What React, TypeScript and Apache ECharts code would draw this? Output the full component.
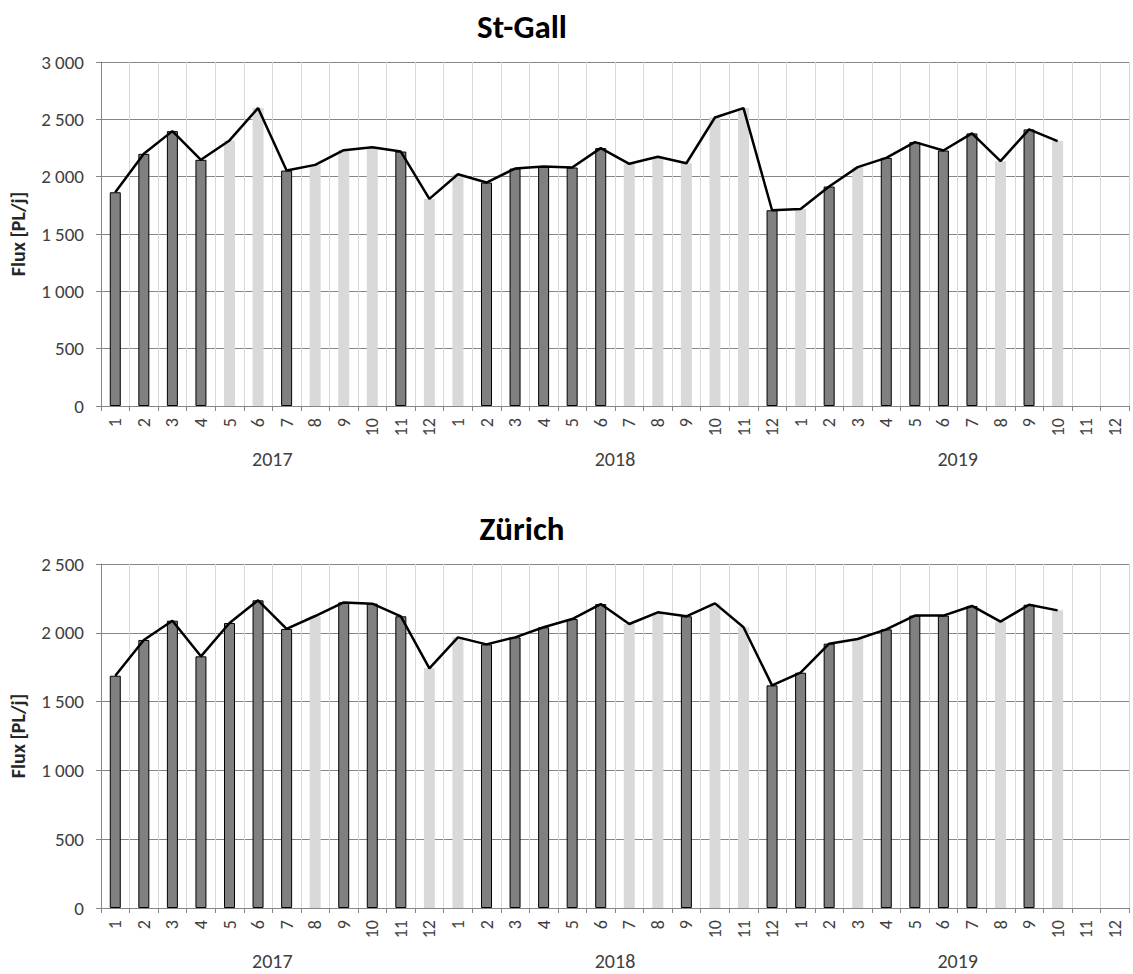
import React, { useEffect, useRef } from "react";
import * as echarts from "echarts";

const monthLabels = [
  "1", "2", "3", "4", "5", "6", "7", "8", "9", "10", "11", "12",
  "1", "2", "3", "4", "5", "6", "7", "8", "9", "10", "11", "12",
  "1", "2", "3", "4", "5", "6", "7", "8", "9", "10", "11", "12",
];
const years = ["2017", "2018", "2019"];

// St-Gall monthly flux [PL/j]
const stGallValues = [
  1864, 2199, 2397, 2147, 2316, 2598, 2053, 2103, 2231, 2257, 2219, 1806,
  2021, 1949, 2071, 2088, 2080, 2249, 2112, 2173, 2117, 2516, 2598, 1707,
  1718, 1914, 2083, 2164, 2301, 2228, 2377, 2135, 2412, 2310, null, null,
];
// 1 = measured (dark bar), 0 = estimated (light bar)
const stGallMeasured = [
  1, 1, 1, 1, 0, 0, 1, 0, 0, 0, 1, 0,
  0, 1, 1, 1, 1, 1, 0, 0, 0, 0, 0, 1,
  0, 1, 0, 1, 1, 1, 1, 0, 1, 0, 0, 0,
];

// Zürich monthly flux [PL/j]
const zurichValues = [
  1688, 1948, 2088, 1829, 2071, 2236, 2028, 2122, 2221, 2212, 2120, 1742,
  1967, 1916, 1967, 2040, 2100, 2209, 2064, 2149, 2120, 2214, 2040, 1618,
  1710, 1921, 1955, 2025, 2125, 2125, 2195, 2081, 2204, 2163, null, null,
];
const zurichMeasured = [
  1, 1, 1, 1, 1, 1, 1, 0, 1, 1, 1, 0,
  0, 1, 1, 1, 1, 1, 0, 0, 1, 0, 0, 1,
  1, 1, 0, 1, 1, 1, 1, 0, 1, 0, 0, 0,
];

const stGallMax = 3000;
const zurichMax = 2500;
const yInterval = 500;

const FONT = "Carlito, 'Open Sans', sans-serif";
const AXIS_GRAY = "#868686";
const GRID_LIGHT = "#d9d9d9";
const TEXT = "#404040";

const fmt = (v: number) =>
  v >= 1000 ? `${Math.floor(v / 1000)} ${String(v % 1000).padStart(3, "0")}` : String(v);

export default function App() {
  const ref = useRef<HTMLDivElement>(null);

  useEffect(() => {
    if (!ref.current) return;
    const chart = echarts.init(ref.current, undefined, { renderer: "svg" });

    const charts = [
      { title: "St-Gall", values: stGallValues, measured: stGallMeasured, max: stGallMax, top: 62 },
      { title: "Zürich", values: zurichValues, measured: zurichMeasured, max: zurichMax, top: 564 },
    ];

    const grid: any[] = [];
    const xAxis: any[] = [];
    const yAxis: any[] = [];
    const series: any[] = [];
    const title: any[] = [];

    charts.forEach((c, i) => {
      title.push({
        text: c.title,
        left: 517,
        top: c.top - 57,
        textAlign: "center",
        textStyle: { fontFamily: FONT, fontWeight: "bold", fontSize: 33, color: "#000" },
      });
      grid.push({ left: 100, top: c.top, width: 1029, height: 344 });
      xAxis.push({
        gridIndex: i,
        type: "category",
        data: monthLabels,
        boundaryGap: true,
        axisLine: { lineStyle: { color: AXIS_GRAY } },
        axisTick: { show: true, interval: 0, length: 5, lineStyle: { color: AXIS_GRAY } },
        axisLabel: { interval: 0, rotate: 90, color: TEXT, fontSize: 18, fontFamily: FONT, margin: 12 },
        splitLine: { show: true, interval: 0, lineStyle: { color: GRID_LIGHT, width: 1 } },
      });
      xAxis.push({
        gridIndex: i,
        type: "category",
        data: years,
        position: "bottom",
        offset: 35,
        axisLine: { show: false },
        axisTick: { show: false },
        axisLabel: { interval: 0, color: TEXT, fontSize: 20, fontFamily: FONT, margin: 8 },
        splitLine: { show: false },
      });
      yAxis.push({
        gridIndex: i,
        type: "value",
        min: 0,
        max: c.max,
        interval: yInterval,
        axisLine: { show: true, lineStyle: { color: AXIS_GRAY } },
        axisTick: { show: true, length: 5, lineStyle: { color: AXIS_GRAY } },
        axisLabel: { formatter: fmt, color: TEXT, fontSize: 19, fontFamily: FONT, margin: 17 },
        splitLine: { show: true, lineStyle: { color: AXIS_GRAY, width: 1 } },
        name: "Flux [PL/j]",
        nameLocation: "middle",
        nameGap: 73,
        nameTextStyle: { fontFamily: FONT, fontWeight: "bold", fontSize: 20, color: "#262626" },
      });
      const dark = c.values.map((v, k) => (c.measured[k] && v != null ? v : null));
      const light = c.values.map((v, k) => (!c.measured[k] && v != null ? v : null));
      series.push({
        type: "bar",
        xAxisIndex: 2 * i,
        yAxisIndex: i,
        data: dark,
        barWidth: 11,
        barGap: "-100%",
        itemStyle: { color: "#808080", borderColor: "#000", borderWidth: 1 },
      });
      series.push({
        type: "bar",
        xAxisIndex: 2 * i,
        yAxisIndex: i,
        data: light,
        barWidth: 11,
        barGap: "-100%",
        itemStyle: { color: "#d9d9d9" },
      });
      series.push({
        type: "line",
        xAxisIndex: 2 * i,
        yAxisIndex: i,
        data: c.values,
        symbol: "none",
        showSymbol: false,
        lineStyle: { color: "#000", width: 2.5 },
        z: 5,
      });
    });

    chart.setOption({
      animation: false,
      backgroundColor: "#fff",
      textStyle: { fontFamily: FONT },
      title,
      grid,
      xAxis,
      yAxis,
      series,
    });

    return () => chart.dispose();
  }, []);

  return (
    <div
      ref={ref}
      style={{ position: "absolute", left: 0, top: 0, width: 1133, height: 974 }}
    />
  );
}
